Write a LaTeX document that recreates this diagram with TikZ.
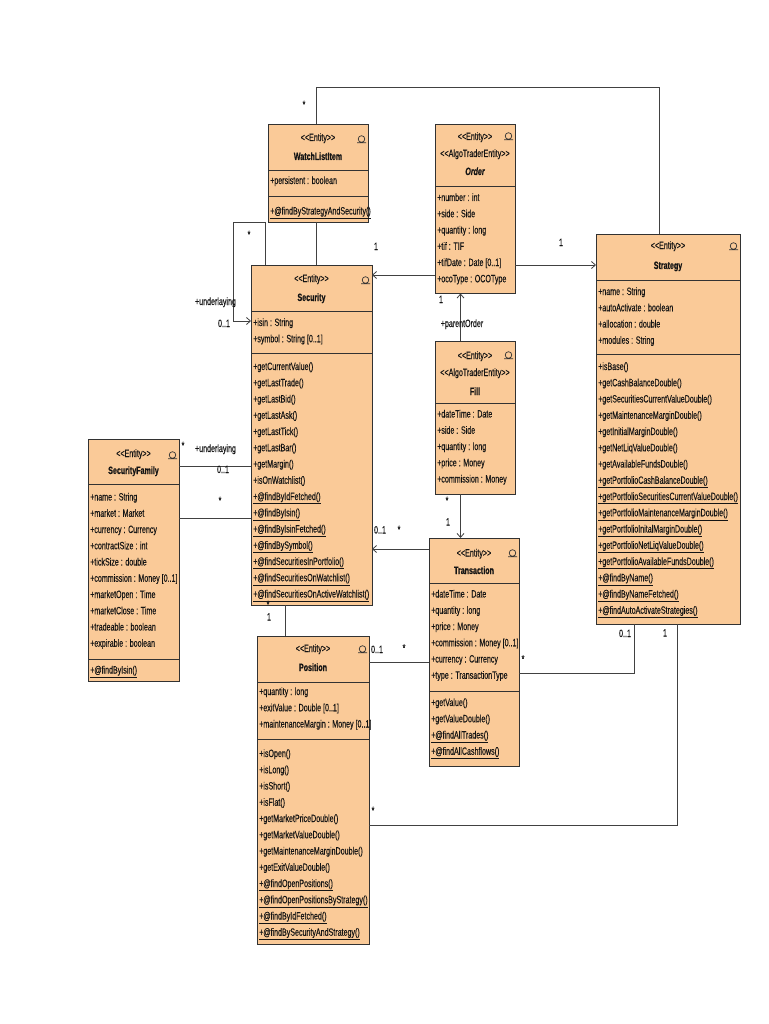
\documentclass[tikz,border=0pt]{standalone}
\usepackage{fontspec}
\newfontfamily\narrowfont[FakeStretch=0.67, FakeBold=0.18]{Liberation Sans}
\newfontfamily\narrowbold[FakeStretch=0.67, FakeBold=0.5]{Liberation Sans Bold}
\newfontfamily\narrowbolditalic[FakeStretch=0.67, FakeBold=0.5]{Liberation Sans Bold Italic}
\usetikzlibrary{arrows.meta}
\definecolor{boxfill}{RGB}{250,202,152}
\definecolor{boxline}{RGB}{50,50,50}
\definecolor{conn}{RGB}{65,65,65}
\definecolor{txtc}{RGB}{20,20,20}
\newcommand\txtlines[4]{%
  \foreach \t [count=\i] in {#4} \node[txt] (#1\i) at (#2,{#3+16.25*(\i-1)}) {\t};}
\newcommand\enticon[2]{%
  \draw[boxline,line width=0.7pt] (#1,#2) circle[radius=3.3] (#1-4.5,#2+3.8) -- (#1+4.5,#2+3.8);}
\begin{document}
\begin{tikzpicture}[x=1pt,y=-1pt,
  umlbox/.style={draw=boxline, fill=boxfill, line width=0.9pt, inner sep=0pt, outer sep=0pt, anchor=north west},
  sepline/.style={draw=boxline, line width=0.9pt},
  txt/.style={font=\narrowfont\fontsize{10.6}{12}\selectfont, text=txtc, inner sep=0pt, anchor=base west},
  ster/.style={txt, anchor=base},
  ttl/.style={txt, anchor=base, font=\narrowbold\fontsize{10.6}{12}\selectfont},
  lbl/.style={txt, anchor=base},
  assoc/.style={draw=conn, line width=0.8pt},
  navarrow/.style={assoc, -{Straight Barb[length=4pt,width=7pt]}},
]
\fill[white] (0,0) rectangle (768,1024);
\useasboundingbox (0,0) rectangle (768,1024);

% ---------- boxes ----------
\node[umlbox, minimum width=100pt, minimum height=98pt] (wli) at (268,124) {};
\node[umlbox, minimum width=121pt, minimum height=340pt] (sec) at (251,265) {};
\node[umlbox, minimum width=91pt, minimum height=242pt] (sf) at (88,439) {};
\node[umlbox, minimum width=80pt, minimum height=169.5pt] (ord) at (435,124) {};
\node[umlbox, minimum width=144pt, minimum height=390pt] (strat) at (596,234) {};
\node[umlbox, minimum width=80pt, minimum height=153pt] (fill) at (435,341) {};
\node[umlbox, minimum width=90pt, minimum height=228pt] (trans) at (429,538) {};
\node[umlbox, minimum width=112pt, minimum height=308pt] (pos) at (257,636) {};

% separators
\draw[sepline] (268,170) -- ++(100,0) (268,196) -- ++(100,0);
\draw[sepline] (251,311) -- ++(121,0) (251,353) -- ++(121,0);
\draw[sepline] (88,484) -- ++(91,0) (88,659) -- ++(91,0);
\draw[sepline] (435,186) -- ++(80,0);
\draw[sepline] (596,280) -- ++(144,0) (596,354) -- ++(144,0);
\draw[sepline] (435,403) -- ++(80,0);
\draw[sepline] (429,583) -- ++(90,0) (429,691) -- ++(90,0);
\draw[sepline] (257,682) -- ++(112,0) (257,739.5) -- ++(112,0);

% icons
\enticon{361.5}{139}
\enticon{365.5}{280}
\enticon{172.5}{455}
\enticon{508.5}{136}
\enticon{733.5}{246}
\enticon{508.5}{355}
\enticon{512.5}{553}
\enticon{362.5}{649}

% ---------- WatchListItem ----------
\node[ster] (wli-s) at (318,141) {<<Entity>>};
\node[ttl] (wli-n) at (318,160) {WatchListItem};
\txtlines{wli-a}{270}{184}{+persistent : boolean}
\txtlines{wli-o}{270}{214.5}{{\underline{+@findByStrategyAndSecurity()}}}

% ---------- Security ----------
\node[ster] (sec-s) at (311.5,282) {<<Entity>>};
\node[ttl] (sec-n) at (311.5,301) {Security};
\txtlines{sec-a}{253}{326}{+isin : String,+symbol : String [0..1]}
\txtlines{sec-o}{253}{370}{+getCurrentValue(),+getLastTrade(),+getLastBid(),+getLastAsk(),+getLastTick(),+getLastBar(),+getMargin(),+isOnWatchlist(),{\underline{+@findByIdFetched()}},{\underline{+@findByIsin()}},{\underline{+@findByIsinFetched()}},{\underline{+@findBySymbol()}},{\underline{+@findSecuritiesInPortfolio()}},{\underline{+@findSecuritiesOnWatchlist()}},{\underline{+@findSecuritiesOnActiveWatchlist()}}}

% ---------- SecurityFamily ----------
\node[ster] (sf-s) at (133.5,457) {<<Entity>>};
\node[ttl] (sf-n) at (133.5,474) {SecurityFamily};
\txtlines{sf-a}{90}{500.5}{+name : String,+market : Market,+currency : Currency,+contractSize : int,+tickSize : double,+commission : Money [0..1],+marketOpen : Time,+marketClose : Time,+tradeable : boolean,+expirable : boolean}
\txtlines{sf-o}{90}{673.5}{{\underline{+@findByIsin()}}}

% ---------- Order ----------
\node[ster] (ord-s1) at (475,140) {<<Entity>>};
\node[ster] (ord-s2) at (475,157) {<<AlgoTraderEntity>>};
\node[ttl, font=\narrowbolditalic\fontsize{10.6}{12}\selectfont] (ord-n) at (475,175) {Order};
\txtlines{ord-a}{437}{201}{+number : int,+side : Side,+quantity : long,+tif : TIF,+tifDate : Date [0..1],+ocoType : OCOType}

% ---------- Strategy ----------
\node[ster] (st-s) at (668,249) {<<Entity>>};
\node[ttl] (st-n) at (668,269) {Strategy};
\txtlines{st-a}{598}{295}{+name : String,+autoActivate : boolean,+allocation : double,+modules : String}
\txtlines{st-o}{598}{370}{+isBase(),+getCashBalanceDouble(),+getSecuritiesCurrentValueDouble(),+getMaintenanceMarginDouble(),+getInitialMarginDouble(),+getNetLiqValueDouble(),+getAvailableFundsDouble(),{\underline{+getPortfolioCashBalanceDouble()}},{\underline{+getPortfolioSecuritiesCurrentValueDouble()}},{\underline{+getPortfolioMaintenanceMarginDouble()}},{\underline{+getPortfolioInitalMarginDouble()}},{\underline{+getPortfolioNetLiqValueDouble()}},{\underline{+getPortfolioAvailableFundsDouble()}},{\underline{+@findByName()}},{\underline{+@findByNameFetched()}},{\underline{+@findAutoActivateStrategies()}}}

% ---------- Fill ----------
\node[ster] (fill-s1) at (475,359) {<<Entity>>};
\node[ster] (fill-s2) at (475,376) {<<AlgoTraderEntity>>};
\node[ttl] (fill-n) at (475,395) {Fill};
\txtlines{fill-a}{437}{417.5}{+dateTime : Date,+side : Side,+quantity : long,+price : Money,+commission : Money}

% ---------- Transaction ----------
\node[ster] (tr-s) at (474,556.5) {<<Entity>>};
\node[ttl] (tr-n) at (474,574) {Transaction};
\txtlines{tr-a}{431}{597.5}{+dateTime : Date,+quantity : long,+price : Money,+commission : Money [0..1],+currency : Currency,+type : TransactionType}
\txtlines{tr-o}{431}{706}{+getValue(),+getValueDouble(),{\underline{+@findAllTrades()}},{\underline{+@findAllCashflows()}}}

% ---------- Position ----------
\node[ster] (pos-s) at (313,652) {<<Entity>>};
\node[ttl] (pos-n) at (313,671) {Position};
\txtlines{pos-a}{259}{695}{+quantity : long,+exitValue : Double [0..1],+maintenanceMargin : Money [0..1]}
\txtlines{pos-o}{259}{757}{+isOpen(),+isLong(),+isShort(),+isFlat(),+getMarketPriceDouble(),+getMarketValueDouble(),+getMaintenanceMarginDouble(),+getExitValueDouble(),{\underline{+@findOpenPositions()}},{\underline{+@findOpenPositionsByStrategy()}},{\underline{+@findByIdFetched()}},{\underline{+@findBySecurityAndStrategy()}}}

% ---------- connectors ----------
\coordinate (wlx) at (316.5,0);
\coordinate (topbend) at (659,87);
\draw[assoc] (wli.north -| wlx) |- (topbend) -- (strat.north -| topbend);
\draw[assoc] (wli.south -| wlx) -- (sec.north -| wlx);

\coordinate (slA) at (265,222);
\coordinate (slB) at (233,321);
\draw[navarrow] (sec.north -| slA) -- (slA) -| (slB) -- (sec.west |- slB);

\coordinate (sfu) at (0,466);
\coordinate (sfs) at (0,518);
\draw[assoc] (sf.east |- sfu) -- (sec.west |- sfu);
\draw[assoc] (sf.east |- sfs) -- (sec.west |- sfs);

\coordinate (osy) at (0,275);
\draw[navarrow] (ord.west |- osy) -- (sec.east |- osy);
\coordinate (osty) at (0,265);
\draw[navarrow] (ord.east |- osty) -- (strat.west |- osty);

\coordinate (fx) at (460.5,0);
\draw[navarrow] (fill.north -| fx) -- (ord.south -| fx);
\draw[navarrow] (fill.south -| fx) -- (trans.north -| fx);

\coordinate (tsy) at (0,549);
\draw[navarrow] (trans.west |- tsy) -- (sec.east |- tsy);

\coordinate (spx) at (285,0);
\draw[assoc] (sec.south -| spx) -- (pos.north -| spx);

\coordinate (pty) at (0,662.5);
\draw[assoc] (pos.east |- pty) -- (trans.west |- pty);

\coordinate (tsb) at (634,673);
\draw[assoc] (trans.east |- tsb) -| (strat.south -| tsb);
\coordinate (psb) at (677,825.5);
\draw[assoc] (pos.east |- psb) -| (strat.south -| psb);

% ---------- labels ----------
\node[lbl] (l1) at (304,108) {*};
\node[lbl] (l2) at (376,250) {1};
\node[lbl] (l3) at (561,246) {1};
\node[lbl] (l4) at (249,238) {*};
\node[lbl] (l5) at (215.5,305) {+underlaying};
\node[lbl] (l6) at (224,327) {0..1};
\node[lbl] (l7) at (183,449) {*};
\node[lbl] (l8) at (215.5,452) {+underlaying};
\node[lbl] (l9) at (223,473) {0..1};
\node[lbl] (l10) at (220,504) {*};
\node[lbl] (l11) at (441,303) {1};
\node[lbl] (l12) at (462,327) {+parentOrder};
\node[lbl] (l13) at (447,504) {*};
\node[lbl] (l14) at (448,525.5) {1};
\node[lbl] (l15) at (380,533.5) {0..1};
\node[lbl] (l16) at (399,533) {*};
\node[lbl] (l17) at (269,620.5) {1};
\node[lbl] (l18) at (268,608) {*};
\node[lbl] (l19) at (377,653) {0..1};
\node[lbl] (l20) at (404,651.5) {*};
\node[lbl] (l21) at (523,662.5) {*};
\node[lbl] (l22) at (625,637) {0..1};
\node[lbl] (l23) at (373,814) {*};
\node[lbl] (l24) at (665,636.5) {1};
\end{tikzpicture}
\end{document}
